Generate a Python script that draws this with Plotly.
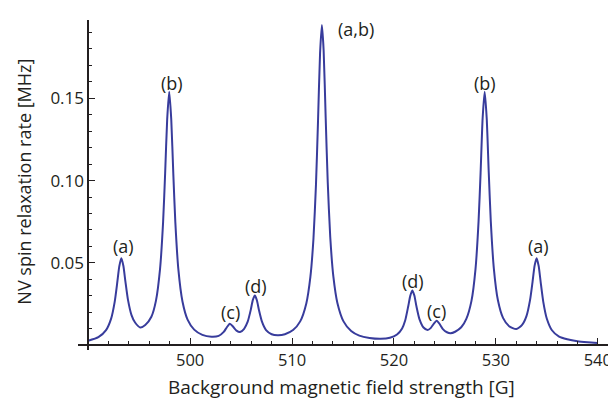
import plotly.graph_objects as go

# Background magnetic field strength [G]
field = [490, 491, 491.75, 492.25, 492.6, 492.85, 493.05, 493.25, 493.45, 493.65,
         493.9, 494.25, 494.6, 495.1, 495.6, 496.2, 496.65, 497.05, 497.35, 497.55,
         497.75, 497.95, 498.15, 498.35, 498.55, 498.85, 499.25, 499.75, 500.4, 501.2,
         502.1, 502.8, 503.3, 503.6, 503.9, 504.2, 504.55, 504.9, 505.3, 505.65,
         505.95, 506.15, 506.35, 506.55, 506.75, 507.05, 507.45, 508.0, 508.6, 509.3,
         510.1, 510.8, 511.4, 511.8, 512.1, 512.35, 512.55, 512.75, 512.93, 513.1,
         513.3, 513.5, 513.75, 514.05, 514.45, 515.05, 515.8, 516.6, 517.6, 518.7,
         519.6, 520.3, 520.8, 521.1, 521.4, 521.6, 521.8, 522.0, 522.2, 522.5,
         522.9, 523.3, 523.6, 523.9, 524.2, 524.5, 524.8, 525.2, 525.55, 526.0,
         526.6, 527.1, 527.6, 528.0, 528.3, 528.5, 528.7, 528.9, 529.1, 529.3,
         529.5, 529.8, 530.2, 530.7, 531.3, 532.0, 532.55, 533.0, 533.35, 533.6,
         533.8, 534.0, 534.2, 534.4, 534.65, 535.0, 535.5, 536.2, 537.0, 538.0,
         539.0, 540.0]

# NV spin relaxation rate [MHz]
rate = [0.0026, 0.0048, 0.0091, 0.0161, 0.0263, 0.0379, 0.0478, 0.0528, 0.0482, 0.0387,
        0.0276, 0.0182, 0.0137, 0.0107, 0.0122, 0.0172, 0.0270, 0.0463, 0.0749, 0.1044,
        0.1372, 0.1540, 0.1371, 0.1042, 0.0746, 0.0458, 0.0265, 0.0155, 0.0094, 0.0062,
        0.0051, 0.0056, 0.0080, 0.0108, 0.0129, 0.0113, 0.0088, 0.0079, 0.0099, 0.0142,
        0.0214, 0.0273, 0.0301, 0.0272, 0.0214, 0.0142, 0.0091, 0.0066, 0.0060, 0.0066,
        0.0091, 0.0144, 0.0253, 0.0414, 0.0645, 0.0978, 0.1364, 0.1775, 0.1945, 0.1792,
        0.1385, 0.0994, 0.0655, 0.0419, 0.0256, 0.0144, 0.0085, 0.0057, 0.0043, 0.0038,
        0.0044, 0.0064, 0.0101, 0.0149, 0.0236, 0.0299, 0.0332, 0.0301, 0.0237, 0.0158,
        0.0107, 0.0092, 0.0103, 0.0129, 0.0148, 0.0126, 0.0097, 0.0078, 0.0072, 0.0081,
        0.0108, 0.0159, 0.0267, 0.0462, 0.0752, 0.1048, 0.1378, 0.1540, 0.1378, 0.1049,
        0.0753, 0.0465, 0.0272, 0.0165, 0.0114, 0.0097, 0.0121, 0.0176, 0.0273, 0.0386,
        0.0483, 0.0528, 0.0480, 0.0380, 0.0263, 0.0160, 0.0090, 0.0051, 0.0035, 0.0023,
        0.0017, 0.0013]

# Peak labels
peak_labels = ["(a)", "(b)", "(c)", "(d)", "(d)", "(c)", "(b)", "(a)"]
peak_label_x = [493.44, 498.18, 503.93, 506.48, 521.86, 524.2, 528.95, 534.18]
peak_label_y = [0.0602, 0.1596, 0.0201, 0.0359, 0.0389, 0.0207, 0.1596, 0.0603]
center_label = "(a,b)"
center_label_x = 516.3

x_tick_vals = [500, 510, 520, 530, 540]
x_tick_text = ["500", "510", "520", "530", "540"]
y_tick_vals = [0.05, 0.10, 0.15]
y_tick_text = ["0.05", "0.10", "0.15"]

x_title = "Background magnetic field strength [G]"
y_title = "NV spin relaxation rate [MHz]"

INK = "#231f20"
LINE = "#383c9c"
FONT = "Open Sans"

x_range = [489.0, 541.0]
y_range = [-0.003, 0.1976]

fig = go.Figure()
fig.add_trace(go.Scatter(x=field, y=rate, mode="lines",
                         line=dict(color=LINE, width=2, shape="spline", smoothing=0.6),
                         hoverinfo="skip"))

annotations = []
for t, xx, yy in zip(peak_labels, peak_label_x, peak_label_y):
    annotations.append(dict(text=t, x=xx, y=yy, xref="x", yref="y", showarrow=False,
                            font=dict(family=FONT, size=18, color=INK)))
annotations.append(dict(text=center_label, x=center_label_x, y=1.016, xref="x", yref="paper",
                        showarrow=False, font=dict(family=FONT, size=18, color=INK)))
annotations.append(dict(text=x_title, x=0.497, y=-0.112, xref="paper", yref="paper",
                        xanchor="center", yanchor="middle", showarrow=False, borderpad=0,
                        font=dict(family=FONT, size=19, color=INK)))
annotations.append(dict(text=y_title, x=-0.102, y=0.51, xref="paper", yref="paper",
                        xanchor="center", yanchor="middle", textangle=-90, showarrow=False,
                        font=dict(family=FONT, size=18, color=INK)))

axis_common = dict(showline=True, linecolor=INK, linewidth=1.5, ticks="inside",
                   ticklen=6, tickwidth=1.3, tickcolor=INK, showgrid=False, zeroline=False,
                   fixedrange=True, ticklabeloverflow="allow")

# the page body adds an 8 px offset, so the figure is 8 px smaller than the window
fig.update_layout(
    width=608, height=397,
    margin=dict(l=70, r=4, t=12, b=55),
    paper_bgcolor="white", plot_bgcolor="white",
    showlegend=False,
    font=dict(family=FONT, size=18, color=INK),
    xaxis=dict(range=x_range, anchor="free",
               position=(0 - y_range[0]) / (y_range[1] - y_range[0]),
               tickmode="array", tickvals=x_tick_vals, ticktext=x_tick_text,
               ticklabelstandoff=0,
               tickfont=dict(family=FONT, size=16.5, color=INK),
               minor=dict(ticks="inside", ticklen=3.5, tickwidth=1.2, tickcolor=INK,
                          tickmode="linear", tick0=490, dtick=2, showgrid=False),
               **axis_common),
    yaxis=dict(range=y_range, anchor="free",
               position=(490 - x_range[0]) / (x_range[1] - x_range[0]),
               tickmode="array", tickvals=y_tick_vals, ticktext=y_tick_text,
               tickfont=dict(family=FONT, size=17, color=INK),
               minor=dict(ticks="inside", ticklen=3.5, tickwidth=1.2, tickcolor=INK,
                          tickmode="linear", tick0=0, dtick=0.01, showgrid=False),
               **axis_common),
    annotations=annotations,
)

fig.write_html("out.html")
